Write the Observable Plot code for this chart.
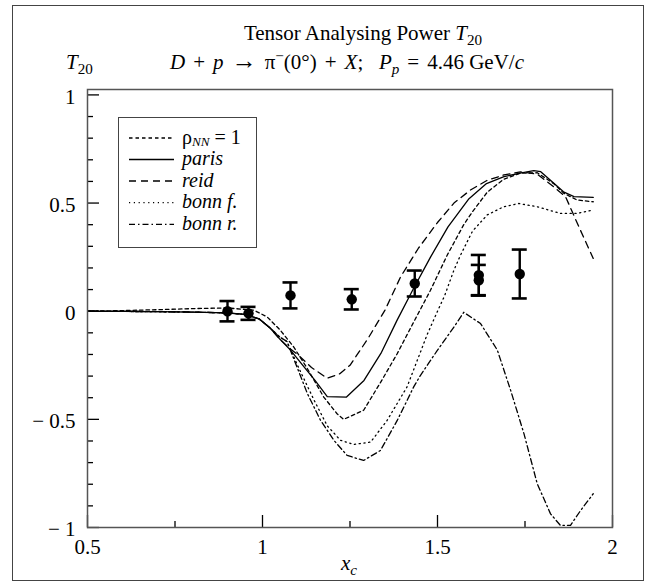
<!DOCTYPE html>
<html><head><meta charset="utf-8">
<script src="https://cdn.jsdelivr.net/npm/d3@7"></script>
<script src="https://cdn.jsdelivr.net/npm/@observablehq/plot@0.6"></script>
<style>
body{margin:0;background:#fff;}
#wrap{position:relative;width:648px;height:586px;font-family:"Liberation Serif","Times New Roman",serif;color:#000;overflow:hidden;}
#wrap > svg{position:absolute;left:0;top:0;}
.t{position:absolute;white-space:nowrap;font-size:21px;line-height:21px;}
.lt{font-size:20px;line-height:17px;}
.c{transform:translateX(-50%);}
sub,sup{font-size:0.72em;line-height:0;}
.lt sub{font-size:0.66em;vertical-align:-0.18em;}
#border{position:absolute;left:12px;top:5px;width:630px;height:574px;border:1.5px solid #444;}
#legend{position:absolute;left:118px;top:117px;width:137px;height:129px;border:1.3px solid #444;background:#fff;}
.arr{font-size:1.2em;line-height:0;}
.op{padding:0 8px;}
</style></head><body>
<div id="wrap"><div id="border"></div></div>
<script>
// ---- tick values and labels ----
const xTickMajor = [0.5, 1, 1.5, 2];
const xTickLabels = ["0.5", "1", "1.5", "2"];
const xTickMinor = [0.75, 1.25, 1.75];
const yTickMajor = [-1, -0.5, 0, 0.5, 1];
const yTickLabels = ["\u2212 1", "\u2212 0.5", "0", "0.5", "1"];
const yTickMinor = [-0.9,-0.8,-0.7,-0.6,-0.4,-0.3,-0.2,-0.1,0.1,0.2,0.3,0.4,0.6,0.7,0.8,0.9];

// ---- experimental points ----
const pointX   = [0.90, 0.96, 1.08, 1.255, 1.435, 1.618, 1.618, 1.735];
const pointY   = [0.00, -0.01, 0.073, 0.055, 0.128, 0.167, 0.143, 0.172];
const pointErr = [0.047, 0.03, 0.06, 0.047, 0.06, 0.093, 0.071, 0.113];

// ---- theory curves [x, T20] ----
const rhoNN1 = [[0.5,0],[0.6,0.003],[0.7,0.007],[0.8,0.012],[0.9,0.015],[0.975,0.005],[1.013,-0.026],[1.051,-0.088],[1.089,-0.165],[1.128,-0.265],[1.175,-0.397],[1.213,-0.474],[1.232,-0.5],[1.289,-0.458],[1.337,-0.33],[1.385,-0.196],[1.432,-0.05],[1.48,0.097],[1.528,0.26],[1.575,0.40],[1.6,0.46],[1.642,0.55],[1.689,0.61],[1.737,0.638],[1.785,0.64],[1.832,0.59],[1.861,0.545],[1.899,0.514],[1.945,0.506]];
const paris = [[0.5,0],[0.6,-0.001],[0.7,-0.002],[0.8,-0.004],[0.9,-0.008],[0.95,-0.015],[0.99,-0.035],[1.02,-0.075],[1.05,-0.13],[1.08,-0.18],[1.11,-0.24],[1.15,-0.32],[1.185,-0.395],[1.24,-0.397],[1.29,-0.32],[1.34,-0.19],[1.385,-0.04],[1.43,0.1],[1.48,0.25],[1.53,0.39],[1.59,0.52],[1.64,0.59],[1.69,0.622],[1.74,0.64],[1.775,0.65],[1.795,0.645],[1.83,0.595],[1.86,0.552],[1.89,0.53],[1.945,0.526]];
const reid = [[0.5,0],[0.6,-0.001],[0.7,-0.002],[0.8,-0.004],[0.9,-0.008],[0.95,-0.015],[0.99,-0.035],[1.02,-0.075],[1.05,-0.13],[1.08,-0.175],[1.10,-0.2],[1.14,-0.26],[1.185,-0.31],[1.22,-0.29],[1.25,-0.25],[1.3,-0.13],[1.35,0.005],[1.395,0.16],[1.445,0.29],[1.5,0.41],[1.547,0.5],[1.594,0.56],[1.642,0.605],[1.69,0.63],[1.737,0.644],[1.785,0.634],[1.832,0.575],[1.866,0.529],[1.904,0.39],[1.945,0.244]];
const bonnF = [[0.5,0],[0.6,-0.001],[0.7,-0.002],[0.8,-0.004],[0.9,-0.008],[0.95,-0.015],[0.99,-0.035],[1.02,-0.075],[1.05,-0.12],[1.07,-0.14],[1.1,-0.25],[1.147,-0.41],[1.185,-0.53],[1.223,-0.597],[1.261,-0.616],[1.309,-0.605],[1.356,-0.505],[1.413,-0.35],[1.47,-0.11],[1.5,0.0],[1.52,0.07],[1.547,0.19],[1.566,0.26],[1.6,0.37],[1.642,0.445],[1.689,0.483],[1.732,0.498],[1.785,0.483],[1.851,0.452],[1.899,0.452],[1.945,0.468]];
const bonnR = [[0.5,0],[0.6,-0.001],[0.7,-0.002],[0.8,-0.004],[0.9,-0.008],[0.95,-0.015],[0.99,-0.035],[1.02,-0.075],[1.05,-0.12],[1.07,-0.14],[1.128,-0.38],[1.166,-0.505],[1.204,-0.597],[1.242,-0.667],[1.289,-0.69],[1.337,-0.644],[1.385,-0.505],[1.432,-0.35],[1.45,-0.3],[1.5,-0.18],[1.547,-0.073],[1.575,-0.005],[1.623,-0.057],[1.671,-0.18],[1.709,-0.366],[1.747,-0.566],[1.785,-0.798],[1.823,-0.937],[1.851,-0.99],[1.88,-0.99],[1.909,-0.921],[1.945,-0.844]];

const seriesNames = ["rhoNN1", "paris", "reid", "bonnF", "bonnR"];
const seriesData = [rhoNN1, paris, reid, bonnF, bonnR];
const seriesDash = ["3.5,3", null, "7,5", "1.2,3.6", "6,3,1.5,3"];

const W = 648, H = 586, mL = 87, mR = 36, mT = 89, mB = 59;
const pw = W - mL - mR, ph = H - mT - mB;
const FONT = "'Liberation Serif', 'Times New Roman', serif";

const points = pointX.map((x, i) => ({x, y: pointY[i], lo: pointY[i] - pointErr[i], hi: pointY[i] + pointErr[i]}));

const marks = [];
seriesData.forEach((s, i) => {
  marks.push(Plot.line(s, {x: d => d[0], y: d => d[1], stroke: "#000", strokeWidth: 1.3,
    strokeDasharray: seriesDash[i] || undefined, clip: true}));
});
marks.push(
  Plot.ruleX(points, {x: "x", y1: "lo", y2: "hi", stroke: "#000", strokeWidth: 2.4}),
  Plot.ruleY(points, {y: "hi", x1: "x", x2: "x", insetLeft: -7.5, insetRight: -7.5, stroke: "#000", strokeWidth: 2.6}),
  Plot.ruleY(points, {y: "lo", x1: "x", x2: "x", insetLeft: -7.5, insetRight: -7.5, stroke: "#000", strokeWidth: 2.6}),
  Plot.dot(points, {x: "x", y: "y", r: 5.2, fill: "#000", stroke: "none"}),
  Plot.tickX(xTickMajor, {x: d => d, insetTop: ph - 12, stroke: "#000", strokeWidth: 1.3}),
  Plot.tickX(xTickMinor, {x: d => d, insetTop: ph - 6, stroke: "#000", strokeWidth: 1.3}),
  Plot.tickY(yTickMajor, {y: d => d, insetRight: pw - 12, stroke: "#000", strokeWidth: 1.3}),
  Plot.tickY(yTickMinor, {y: d => d, insetRight: pw - 6, stroke: "#000", strokeWidth: 1.3}),
  Plot.frame({stroke: "#555", strokeWidth: 1.5}),
  Plot.text(xTickMajor, {x: d => d, text: (d, i) => xTickLabels[i], frameAnchor: "bottom", lineAnchor: "top", dy: 12,
    fontFamily: FONT, fontSize: 21, fill: "#000"}),
  Plot.text(yTickMajor, {y: d => d, text: (d, i) => yTickLabels[i], frameAnchor: "left", textAnchor: "end", dx: -12, dy: 2,
    fontFamily: FONT, fontSize: 21, fill: "#000"})
);

const chart = Plot.plot({
  width: W, height: H,
  marginLeft: mL, marginRight: mR, marginTop: mT, marginBottom: mB,
  x: {domain: [0.5, 2], axis: null},
  y: {domain: [-1, 1.025], axis: null},
  style: {background: "transparent", overflow: "visible"},
  marks
});

const wrap = document.getElementById("wrap");
wrap.insertBefore(chart, wrap.firstChild);

function addText(html, left, top, center) {
  const d = document.createElement("div");
  d.className = "t" + (center ? " c" : "");
  d.style.left = left + "px";
  d.style.top = top + "px";
  d.innerHTML = html;
  wrap.appendChild(d);
  return d;
}
addText('Tensor Analysing Power <i>T</i><sub>20</sub>', 363, 23, true);
addText('<i>D</i><span class="op">+</span><i>p</i><span class="op arr">\u2192</span>\u03c0<sup>\u2212</sup>(0\u00b0)<span class="op">+</span><i>X</i>;&nbsp;&nbsp; <i>P<sub>p</sub></i><span class="op">=</span>4.46 GeV/<i>c</i>', 347, 52, true);
addText('<i>T</i><sub>20</sub>', 66, 52, false);
addText('<i>x<sub>c</sub></i>', 349, 553, true);

// legend
const legendLabels = ['\u03c1<sub><i>NN</i></sub> = 1', '<i>paris</i>', '<i>reid</i>', '<i>bonn f.</i>', '<i>bonn r.</i>'];
const lg = document.createElement("div");
lg.id = "legend";
wrap.appendChild(lg);
const rowY = [20, 41.5, 63, 84.7, 106.3];
const ns = "http://www.w3.org/2000/svg";
const lsvg = document.createElementNS(ns, "svg");
lsvg.setAttribute("width", 60); lsvg.setAttribute("height", 129);
lsvg.style.position = "absolute"; lsvg.style.left = "0px"; lsvg.style.top = "0px";
lg.appendChild(lsvg);
seriesNames.forEach((n, i) => {
  const ln = document.createElementNS(ns, "line");
  ln.setAttribute("x1", 10); ln.setAttribute("x2", 55);
  ln.setAttribute("y1", rowY[i]); ln.setAttribute("y2", rowY[i]);
  ln.setAttribute("stroke", "#000"); ln.setAttribute("stroke-width", 1.3);
  if (seriesDash[i]) ln.setAttribute("stroke-dasharray", seriesDash[i]);
  lsvg.appendChild(ln);
  const t = document.createElement("div");
  t.className = "t lt";
  t.style.left = "63px";
  t.style.top = (rowY[i] - 9.5) + "px";
  t.innerHTML = legendLabels[i];
  lg.appendChild(t);
});
</script>
</body></html>
